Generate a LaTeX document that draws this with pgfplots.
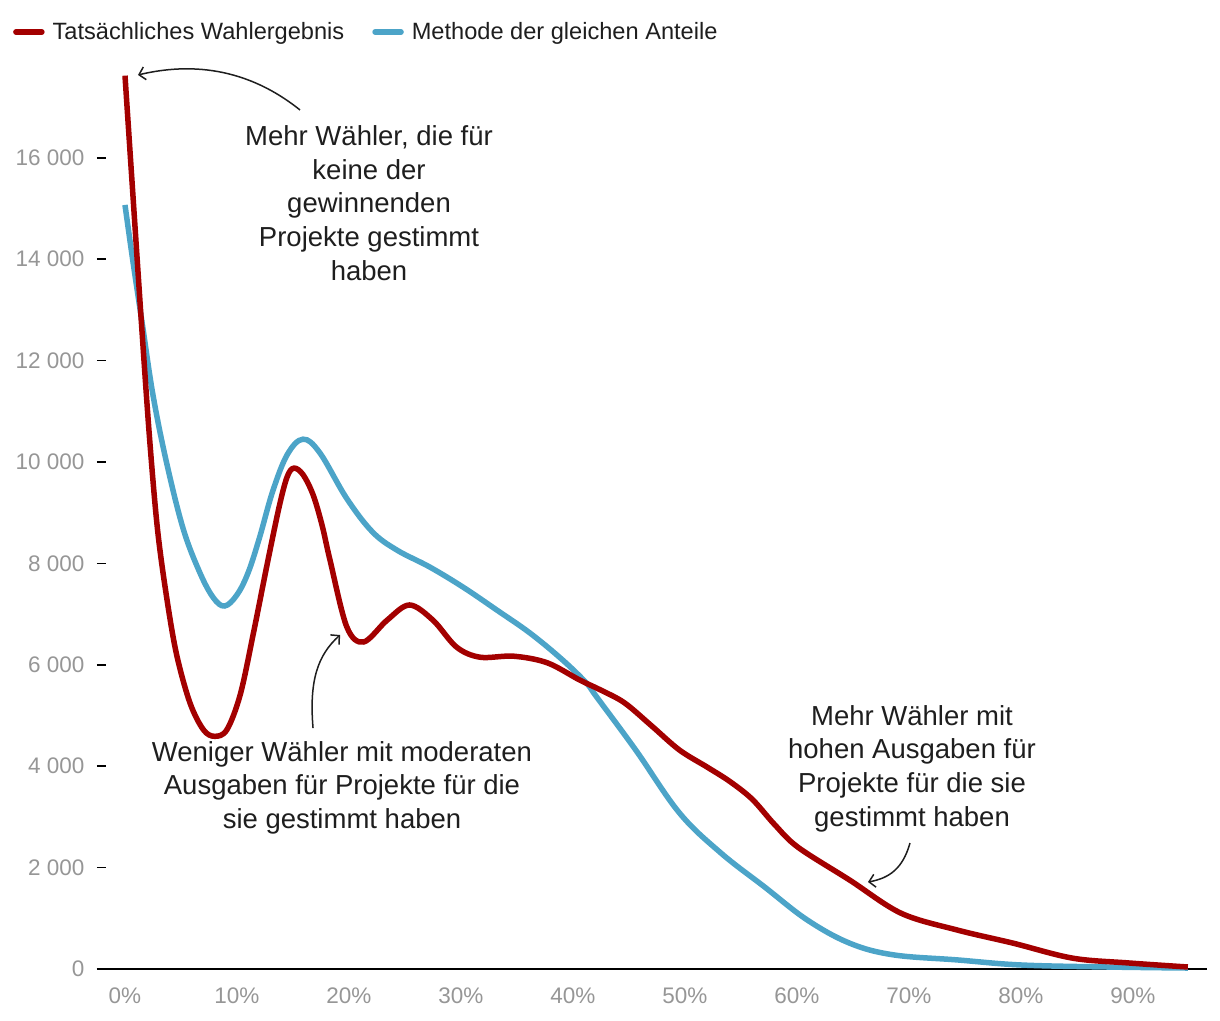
\documentclass[border=0pt]{standalone}
\usepackage{pgfplots}
\pgfplotsset{compat=1.18}
\usepackage{fontspec}
\setmainfont{Liberation Sans}
\usetikzlibrary{arrows.meta}
\definecolor{wred}{RGB}{163,0,0}
\definecolor{wblue}{RGB}{76,164,200}
\definecolor{tickgray}{RGB}{150,150,150}
\definecolor{txt}{RGB}{30,30,30}
\begin{document}
\begin{tikzpicture}
\begin{axis}[
  scale only axis,
  width=1110bp, height=912.6bp,
  xmin=-2.5, xmax=96.61, ymin=0, ymax=18000,
  clip=false,
  scaled y ticks=false,
  axis x line*=bottom, axis y line*=left,
  y axis line style={draw=none},
  x axis line style={line width=2.5bp, black},
  xtick={0,10,...,90},
  xticklabels={0\%,10\%,20\%,30\%,40\%,50\%,60\%,70\%,80\%,90\%},
  ytick={0,2000,...,16000},
  yticklabels={0,2 000,4 000,6 000,8 000,10 000,12 000,14 000,16 000},
  tick align=inside,
  major tick length=9bp,
  xtick style={draw=none},
  ytick style={line width=1.5bp, black},
  ticklabel style={font=\fontsize{22.5bp}{26bp}\selectfont, text=tickgray},
  yticklabel style={xshift=-9bp},
  xticklabel style={yshift=-15bp},
  legend style={at={(-0.0784,1.0267)}, anchor=west, draw=none, fill=none,
    font=\fontsize{23.6bp}{28bp}\selectfont, text=txt,
    /tikz/every odd column/.append style={column sep=6bp},
    /tikz/every even column/.append style={column sep=26bp}},
  legend columns=2,
  legend image code/.code={\draw[#1, line cap=round, line width=5.5bp] (0bp,0bp) -- (26bp,0bp);},
]
\addlegendimage{wred}
\addlegendentry{Tatsächliches Wahlergebnis}
\addlegendimage{wblue}
\addlegendentry{Methode der gleichen Anteile}

\addplot[wblue, line width=5.5bp, smooth, tension=0.6, forget plot] coordinates {
(0,15070) (0.7,13970) (1.6,12640) (2.5,11320) (3.7,10000) (5.2,8680)
(6.7,7810) (7.9,7320) (8.9,7160) (10.0,7380) (11.0,7820) (12.0,8500) (13.2,9430)
(14.5,10150) (15.9,10450) (17.4,10180) (19.8,9280) (22.1,8620) (24.3,8260)
(27.2,7930) (30.2,7530) (33.2,7080) (36.2,6620) (39.1,6090) (41.2,5640)
(42.1,5370) (45.6,4320) (49.5,3080) (53.2,2290) (57.1,1620) (60.9,970)
(64.7,510) (68.6,280) (74.3,180) (80.0,80) (87.7,40) (94.9,20)
};
\addplot[wred, line width=5.5bp, smooth, tension=0.55, forget plot] coordinates {
(0,17620) (0.7,15290) (1.5,12640) (2.2,10450) (2.9,8680) (3.7,7360)
(4.6,6210) (5.8,5250) (7.0,4720) (8.0,4590) (9.1,4720) (10.3,5420)
(11.5,6660) (12.7,7990) (13.8,9150) (14.5,9720) (15.1,9880) (15.9,9750)
(16.8,9350) (17.6,8750) (18.3,8070)
(19.8,6750) (21.3,6450) (23.4,6880) (25.4,7180) (27.5,6880) (29.6,6350)
(31.7,6150) (34.7,6170) (37.7,6040) (40.6,5700) (42.5,5500) (44.6,5250) (47.0,4800)
(49.5,4320) (52.0,3980) (54.0,3700) (56.0,3350) (58.0,2850) (60.1,2400)
(64.7,1755) (69.3,1100)
(74.3,770) (79.3,510) (84.6,215) (89.6,120) (94.9,40)
};

\node[align=center, text=txt, font=\fontsize{27.5bp}{33.6bp}\selectfont] at (axis cs:21.79,15108)
  {Mehr Wähler, die für\\keine der\\gewinnenden\\Projekte gestimmt\\haben};
\node[align=center, text=txt, font=\fontsize{27.5bp}{33.6bp}\selectfont] at (axis cs:19.375,3580)
  {Weniger Wähler mit moderaten\\Ausgaben für Projekte für die\\sie gestimmt haben};
\node[align=center, text=txt, font=\fontsize{27.5bp}{33.6bp}\selectfont] at (axis cs:70.27,3955)
  {Mehr Wähler mit\\hohen Ausgaben für\\Projekte für die sie\\gestimmt haben};

\draw[line width=1.5bp, txt, -{Straight Barb[length=6bp,width=13bp]}]
  (axis cs:15.625,16943) .. controls (axis cs:10.27,17890) and (axis cs:4.91,17830) .. (axis cs:1.16,17633);
\draw[line width=1.5bp, txt, -{Straight Barb[length=6bp,width=13bp]}]
  (axis cs:16.79,4753) .. controls (axis cs:16.43,5700) and (axis cs:17.23,6193) .. (axis cs:19.2,6588);
\draw[line width=1.5bp, txt, -{Straight Barb[length=6bp,width=13bp]}]
  (axis cs:70.09,2485) .. controls (axis cs:69.46,1992) and (axis cs:68.3,1795) .. (axis cs:66.34,1716);

\coordinate (bl) at (axis cs:-11.16,-1006);
\coordinate (tr) at (axis cs:97.77,19112);
\end{axis}
\pgfresetboundingbox
\useasboundingbox (bl) rectangle (tr);
\end{tikzpicture}
\end{document}
